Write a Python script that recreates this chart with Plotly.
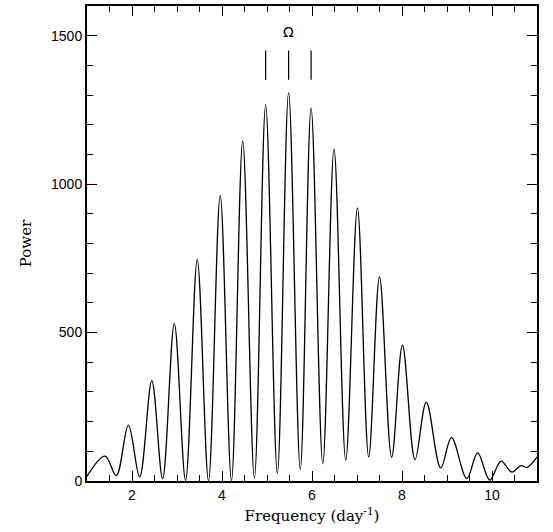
import plotly.graph_objects as go

# Periodogram: alternating troughs and peaks (frequency in day^-1, power)
freq = [1.0, 1.40, 1.65, 1.92, 2.17, 2.44, 2.68, 2.94, 3.19, 3.45, 3.70, 3.96,
        4.21, 4.46, 4.72, 4.97, 5.23, 5.48, 5.74, 5.98, 6.24, 6.49, 6.75, 7.01,
        7.26, 7.50, 7.77, 8.01, 8.29, 8.54, 8.86, 9.10, 9.44, 9.68, 9.95, 10.20,
        10.44, 10.64, 10.78, 11.0]
power = [16, 84, 18, 188, 14, 338, 8, 530, 2, 746, 1, 962,
         1, 1146, 10, 1268, 25, 1308, 39, 1257, 58, 1119, 70, 920,
         81, 688, 80, 458, 72, 266, 44, 146, 8, 95, 3, 67,
         30, 52, 46, 81]

marker_freqs = [4.97, 5.48, 5.98]
marker_low, marker_high = 1352, 1450
omega_label = "Ω"
omega_pos = (5.48, 1512)

x_ticks = [2, 4, 6, 8, 10]
y_ticks = [0, 500, 1000, 1500]

fig = go.Figure()
fig.add_trace(go.Scatter(
    x=freq, y=power, mode="lines",
    line=dict(color="black", width=1.3, shape="spline", smoothing=1.0),
    showlegend=False, hoverinfo="skip"))

for f in marker_freqs:
    fig.add_shape(type="line", xref="x", yref="y", x0=f, x1=f,
                  y0=marker_low, y1=marker_high,
                  line=dict(color="black", width=1.2))

fig.add_annotation(x=omega_pos[0], y=omega_pos[1], text=omega_label,
                   showarrow=False, xref="x", yref="y",
                   font=dict(family="DejaVu Sans", size=14, color="black"))

axis_common = dict(
    showgrid=False, zeroline=False, showline=True, linecolor="black",
    linewidth=2, mirror="ticks", ticks="inside", tickcolor="black",
    tickwidth=1, ticklen=10,
    tickfont=dict(family="Liberation Sans", size=14, color="black"),
)

title_font = dict(family="DejaVu Serif", size=15, color="black")

fig.update_xaxes(range=[1, 11], tickvals=x_ticks,
                 ticktext=[str(v) for v in x_ticks],
                 minor=dict(dtick=0.5, tick0=0, ticks="inside", ticklen=6,
                            tickcolor="black", tickwidth=1),
                 title=dict(text="Frequency (day<sup>-1</sup>)", standoff=9,
                            font=title_font),
                 **axis_common)
fig.update_yaxes(range=[0, 1600], tickvals=y_ticks,
                 ticktext=[str(v) for v in y_ticks],
                 minor=dict(dtick=100, tick0=0, ticks="inside", ticklen=6,
                            tickcolor="black", tickwidth=1),
                 title=dict(text="Power", standoff=16, font=title_font),
                 **axis_common)

fig.update_layout(
    width=553, height=532,
    margin=dict(l=87, r=16, t=6, b=51, autoexpand=False),
    plot_bgcolor="white", paper_bgcolor="white",
)

fig.write_html("out.html", config={"displayModeBar": False},
               post_script="document.body.style.margin='0';document.body.style.overflow='hidden';")
